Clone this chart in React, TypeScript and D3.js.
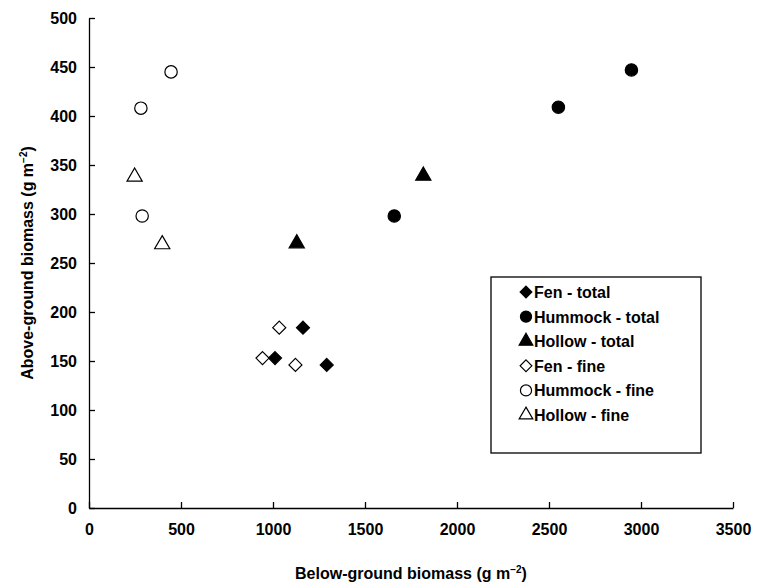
import React, { useEffect, useRef } from 'react';
import * as d3 from 'd3';

const xTicks = [0, 500, 1000, 1500, 2000, 2500, 3000, 3500];
const yTicks = [0, 50, 100, 150, 200, 250, 300, 350, 400, 450, 500];

const fenTotal = [[1011, 153], [1163, 184], [1292, 146]];
const hummockTotal = [[1659, 298], [2551, 409], [2948, 447]];
const hollowTotal = [[1129, 270], [1817, 339]];
const fenFine = [[943, 153], [1034, 184], [1122, 146]];
const hummockFine = [[282, 408], [289, 298], [446, 445]];
const hollowFine = [[248, 338], [398, 269]];

const seriesNames = ['Fen - total', 'Hummock - total', 'Hollow - total', 'Fen - fine', 'Hummock - fine', 'Hollow - fine'];
const seriesData = [fenTotal, hummockTotal, hollowTotal, fenFine, hummockFine, hollowFine];
const seriesShape = ['diamond', 'circle', 'triangle', 'diamond', 'circle', 'triangle'];
const seriesFilled = [true, true, true, false, false, false];

const App = () => {
  const svgRef = useRef(null);

  useEffect(() => {
    const width = 758;
    const height = 585;
    const margin = { top: 18, right: 25, bottom: 77, left: 89 };
    const font = 'Liberation Sans, Arial, sans-serif';

    const svg = d3.select(svgRef.current);
    svg.selectAll('*').remove();

    const x = d3.scaleLinear().domain([0, 3500]).range([margin.left, width - margin.right]);
    const y = d3.scaleLinear().domain([0, 500]).range([height - margin.bottom, margin.top]);

    const xAxis = svg.append('g')
      .attr('transform', `translate(0,${height - margin.bottom})`)
      .call(d3.axisBottom(x).tickValues(xTicks).tickFormat(d3.format('d')).tickSizeInner(-6).tickSizeOuter(0).tickPadding(16));
    const yAxis = svg.append('g')
      .attr('transform', `translate(${margin.left},0)`)
      .call(d3.axisLeft(y).tickValues(yTicks).tickFormat(d3.format('d')).tickSizeInner(-6).tickSizeOuter(0).tickPadding(12));
    [xAxis, yAxis].forEach(a => {
      a.selectAll('text').style('font-family', font).style('font-size', '16px').style('font-weight', 'bold').attr('fill', '#000');
      a.selectAll('line, path').attr('stroke', '#000').attr('stroke-width', 1.3);
    });

    const symbolFor = (s: string, k: number) => {
      if (s === 'diamond') {
        const r = 6.5 * k;
        return `M0,${-r}L${r},0L0,${r}L${-r},0Z`;
      }
      const t = s === 'circle' ? d3.symbolCircle : d3.symbolTriangle;
      return d3.symbol().type(t).size((s === 'circle' ? 120 : 100) * k * k)() as string;
    };

    seriesData.forEach((pts, i) => {
      svg.append('g').selectAll('path').data(pts).enter().append('path')
        .attr('d', symbolFor(seriesShape[i], 1))
        .attr('transform', d => `translate(${x(d[0])},${y(d[1])})`)
        .attr('fill', seriesFilled[i] ? '#000' : '#fff')
        .attr('stroke', '#000')
        .attr('stroke-width', 1.2);
    });

    // Legend
    const lg = svg.append('g').attr('transform', 'translate(491,277)');
    lg.append('rect').attr('width', 210).attr('height', 176).attr('fill', '#fff').attr('stroke', '#000').attr('stroke-width', 1.3);
    seriesNames.forEach((name, i) => {
      const row = lg.append('g').attr('transform', `translate(35,${15 + i * 24.6})`);
      row.append('path')
        .attr('d', symbolFor(seriesShape[i], 0.9))
        .attr('fill', seriesFilled[i] ? '#000' : '#fff')
        .attr('stroke', '#000').attr('stroke-width', 1.2);
      row.append('text').attr('x', 8).attr('y', 6)
        .style('font-family', font).style('font-size', '16px').style('font-weight', 'bold')
        .text(name);
    });

    // Axis titles
    const xt = svg.append('text').attr('x', (margin.left + width - margin.right) / 2).attr('y', 579)
      .attr('text-anchor', 'middle')
      .style('font-family', font).style('font-size', '16px').style('font-weight', 'bold');
    xt.append('tspan').text('Below-ground biomass (g m');
    xt.append('tspan').attr('dy', -6).style('font-size', '10px').text('−2');
    xt.append('tspan').attr('dy', 6).text(')');

    const yt = svg.append('text').attr('transform', `translate(33,${(margin.top + height - margin.bottom) / 2}) rotate(-90)`)
      .attr('text-anchor', 'middle')
      .style('font-family', font).style('font-size', '16px').style('font-weight', 'bold');
    yt.append('tspan').text('Above-ground biomass (g m');
    yt.append('tspan').attr('dy', -6).style('font-size', '10px').text('−2');
    yt.append('tspan').attr('dy', 6).text(')');
  }, []);

  return <svg ref={svgRef} width={758} height={585} style={{ position: 'absolute', left: 0, top: 0 }} />;
};

export default App;
